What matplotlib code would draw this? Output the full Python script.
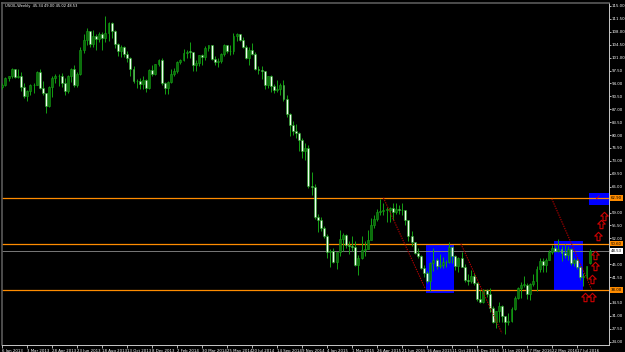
import matplotlib
matplotlib.use("Agg")
import matplotlib.pyplot as plt
from matplotlib.patches import Rectangle
from matplotlib.path import Path
from matplotlib.transforms import blended_transform_factory

# weekly USOIL candles, 6 Jan 2013 .. 14 Aug 2016 (one bar per week)
opens = [
    # 2013
    93.1, 93.6, 95.6, 95.9, 97.8, 95.7, 95.9, 93.1, 90.7, 91.9, 93.5, 93.7, 97.2,
    92.7, 91.3, 88.0, 93.0, 95.6, 96.0, 96.0, 94.2, 91.9, 96.0, 97.8, 93.7, 96.6,
    103.2, 105.9, 108.1, 104.7, 106.9, 106.0, 107.5, 106.4, 107.7, 110.5, 108.2,
    104.7, 102.9, 103.8, 102.0, 100.8, 97.8, 94.6, 94.6, 93.8, 95.0, 92.7, 97.6,
    96.6, 99.3, 100.3,
    # 2014
    94.0, 92.7, 94.4, 96.6, 97.5, 99.9, 100.3, 102.2, 102.6, 102.6, 98.9, 99.5,
    101.7, 101.1, 103.7, 104.3, 100.6, 99.8, 100.0, 102.0, 104.4, 102.7, 102.7,
    106.9, 107.3, 105.7, 104.0, 100.8, 103.1, 102.1, 97.9, 97.7, 97.4, 93.7, 95.9,
    93.3, 92.3, 92.4, 93.5, 89.7, 85.8, 82.8, 81.0, 80.5, 78.7, 75.8, 76.5, 66.2,
    65.8, 57.8, 57.1, 54.7,
    # 2015
    52.7, 48.4, 48.7, 45.6, 48.2, 51.7, 52.8, 50.3, 49.8, 49.6, 44.8, 46.6, 48.9,
    49.1, 51.6, 55.7, 57.2, 59.2, 59.4, 59.7, 59.7, 60.3, 59.1, 60.0, 59.6, 59.6,
    56.9, 52.7, 50.9, 48.1, 47.1, 43.9, 42.5, 40.5, 45.2, 46.1, 44.6, 44.7, 45.7,
    45.5, 49.6, 47.3, 44.6, 46.6, 44.3, 40.7, 40.4, 41.7, 40.0, 35.6, 34.7, 38.1,
    # 2016
    37.0, 33.2, 29.4, 32.2, 33.6, 30.9, 29.4, 29.6, 32.8, 35.9, 38.5, 39.4, 39.4,
    36.8, 39.7, 40.4, 43.7, 45.9, 44.7, 46.2, 48.4, 49.3, 48.6, 49.1, 48.0, 47.6,
    49.0, 45.4, 46.0, 44.2, 41.6, 41.8, 45.34,
]
highs = [
    94.2, 95.8, 96.1, 98.2, 98.0, 98.0, 97.0, 94.0, 92.1, 93.9, 94.0, 97.5, 97.8,
    94.6, 91.4, 93.2, 96.0, 96.6, 96.5, 96.9, 95.4, 96.2, 98.1, 98.9, 97.2, 103.9,
    107.4, 108.9, 108.3, 108.6, 107.5, 108.0, 107.9, 112.2, 110.7, 110.7, 108.5,
    104.9, 104.3, 104.2, 102.9, 101.2, 98.7, 95.3, 95.4, 95.9, 95.2, 98.0, 99.0,
    99.4, 100.5, 100.8,
    94.5, 94.6, 97.8, 98.2, 100.1, 100.6, 103.4, 103.0, 105.2, 102.6, 100.4, 101.8,
    102.0, 104.1, 104.5, 104.4, 101.5, 101.0, 102.3, 104.6, 104.5, 104.3, 107.6,
    107.7, 107.5, 106.5, 104.3, 103.9, 105.0, 102.4, 98.7, 98.6, 97.5, 96.0, 96.2,
    93.9, 95.0, 94.2, 94.9, 91.0, 86.0, 83.9, 82.9, 80.7, 79.3, 77.8, 77.2, 69.9,
    66.6, 58.6, 57.8, 55.4,
    53.1, 49.0, 49.3, 48.3, 54.2, 53.5, 53.2, 51.3, 52.5, 51.2, 47.6, 52.5, 51.2,
    54.2, 57.4, 58.4, 59.9, 62.6, 61.7, 60.4, 60.5, 61.6, 61.6, 61.0, 61.6, 59.7,
    57.0, 53.9, 51.0, 49.3, 47.4, 44.8, 43.2, 45.5, 49.3, 46.7, 47.7, 47.0, 46.0,
    50.9, 49.9, 47.5, 47.0, 48.4, 45.0, 42.2, 43.5, 42.5, 40.1, 37.9, 38.3, 38.3,
    38.4, 33.6, 32.4, 34.8, 34.0, 31.0, 31.8, 33.5, 36.3, 38.7, 40.2, 41.9, 39.8,
    39.8, 42.4, 44.5, 46.8, 46.8, 46.8, 48.9, 50.2, 50.2, 51.7, 49.9, 50.5, 49.9,
    49.4, 46.6, 46.7, 44.4, 42.5, 44.6, 49.00,
]
lows = [
    92.6, 93.2, 94.6, 95.6, 95.6, 95.6, 92.0, 90.0, 89.3, 90.8, 91.4, 93.5, 92.6,
    90.9, 86.1, 87.6, 90.2, 94.0, 93.3, 92.9, 90.9, 91.5, 94.5, 93.0, 93.1, 96.2,
    102.2, 104.3, 104.0, 103.9, 103.0, 105.3, 103.0, 105.2, 105.4, 106.3, 103.7,
    101.4, 101.2, 101.2, 99.9, 96.1, 94.1, 92.7, 92.6, 92.4, 91.8, 92.5, 96.0,
    96.4, 98.6, 93.7,
    91.2, 91.2, 94.0, 96.0, 96.9, 99.2, 100.0, 101.0, 100.8, 97.4, 97.4, 98.6,
    98.9, 100.4, 102.9, 100.3, 98.9, 98.5, 99.6, 101.5, 102.3, 101.7, 102.0,
    105.6, 105.5, 103.6, 100.5, 98.9, 101.8, 97.6, 96.6, 95.2, 92.5, 92.8, 91.6,
    91.4, 91.8, 90.8, 89.2, 84.8, 79.8, 80.0, 79.3, 75.8, 73.8, 73.3, 65.7, 63.7,
    57.3, 53.6, 53.9, 52.0,
    46.8, 44.2, 45.3, 43.6, 47.2, 48.5, 49.3, 47.8, 48.6, 44.4, 42.0, 46.5, 47.1,
    49.0, 51.5, 54.8, 56.6, 58.3, 58.4, 56.5, 56.5, 57.0, 58.5, 58.5, 58.4, 55.5,
    51.2, 50.0, 47.7, 46.7, 43.6, 41.4, 39.9, 37.8, 43.2, 43.7, 44.0, 44.0, 44.2,
    45.3, 45.2, 43.5, 43.0, 44.1, 40.2, 39.3, 40.0, 39.4, 35.0, 34.5, 34.4, 36.1,
    32.1, 29.1, 27.6, 29.3, 29.3, 26.1, 28.4, 29.2, 32.6, 35.6, 35.8, 38.8, 35.6,
    35.2, 39.2, 37.6, 42.8, 43.0, 43.0, 46.0, 47.7, 48.3, 48.4, 45.8, 46.7, 46.0,
    44.8, 44.4, 43.8, 40.6, 39.2, 41.0, 45.02,
]
closes = [
    93.6, 95.6, 95.9, 97.8, 95.7, 95.9, 93.1, 90.7, 91.9, 93.5, 93.7, 97.2, 92.7,
    91.3, 88.0, 93.0, 95.6, 96.0, 96.0, 94.2, 91.9, 96.0, 97.8, 93.7, 96.6, 103.2,
    105.9, 108.1, 104.7, 106.9, 106.0, 107.5, 106.4, 107.7, 110.5, 108.2, 104.7,
    102.9, 103.8, 102.0, 100.8, 97.8, 94.6, 94.6, 93.8, 95.0, 92.7, 97.6, 96.6,
    99.3, 100.3, 94.0,
    92.7, 94.4, 96.6, 97.5, 99.9, 100.3, 102.2, 102.6, 102.58, 98.9, 99.5, 101.7,
    101.1, 103.7, 104.3, 100.6, 99.8, 100.0, 102.0, 104.4, 102.7, 102.66, 106.9,
    107.3, 105.7, 104.0, 100.8, 103.1, 102.1, 97.9, 97.7, 97.4, 93.7, 95.9, 93.3,
    92.3, 92.4, 93.5, 89.7, 85.8, 82.8, 81.0, 80.5, 78.7, 75.8, 76.5, 66.2, 65.8,
    57.8, 57.1, 54.7, 52.7,
    48.4, 48.7, 45.6, 48.2, 51.7, 52.8, 50.3, 49.8, 49.6, 44.8, 46.6, 48.9, 49.1,
    51.6, 55.7, 57.2, 59.2, 59.4, 59.7, 59.72, 60.3, 59.1, 60.0, 59.6, 59.63, 56.9,
    52.7, 50.9, 48.1, 47.1, 43.9, 42.5, 40.5, 45.2, 46.1, 44.6, 44.7, 45.7, 45.5,
    49.6, 47.3, 44.6, 46.6, 44.3, 40.7, 40.4, 41.7, 40.0, 35.6, 34.7, 38.1, 37.0,
    33.2, 29.4, 32.2, 33.6, 30.9, 29.4, 29.6, 32.8, 35.9, 38.5, 39.4, 39.46, 36.8,
    39.7, 40.4, 43.7, 45.9, 44.7, 46.2, 48.4, 49.3, 48.6, 49.1, 48.0, 47.6, 49.0,
    45.4, 46.0, 44.2, 41.6, 41.8, 44.5, 48.53,
]

date_labels = ["6 Jan 2013", "3 Mar 2013", "28 Apr 2013", "23 Jun 2013",
               "18 Aug 2013", "13 Oct 2013", "8 Dec 2013", "2 Feb 2014",
               "30 Mar 2014", "25 May 2014", "20 Jul 2014", "14 Sep 2014",
               "9 Nov 2014", "4 Jan 2015", "1 Mar 2015", "26 Apr 2015",
               "21 Jun 2015", "16 Aug 2015", "11 Oct 2015", "6 Dec 2015",
               "31 Jan 2016", "27 Mar 2016", "22 May 2016", "17 Jul 2016"]
price_ticks = [115.0 - 3.5 * k for k in range(27)]

# drawn objects on the chart
level_prices = [62.90, 50.60, 38.00]
bid_price = 48.53
box_x0 = [135.6, 176.5, 187.7]
box_x1 = [144.5, 185.8, 194.2]
box_low = [37.2, 38.0, 61.0]
box_high = [50.4, 51.3, 64.3]
trend_x0 = [122.0, 146.8, 175.9]
trend_y0 = [63.0, 50.5, 62.7]
trend_x1 = [135.3, 159.9, 188.7]
trend_y1 = [38.5, 26.3, 38.0]
arrow_x = [192.5, 191.6, 190.6, 189.7, 189.7, 188.7, 186.6, 188.9]
arrow_y = [58.1, 55.8, 52.5, 47.5, 44.5, 41.0, 36.1, 36.1]
check_x = [190.6]
check_y = [62.9]

W, H = 625, 352
fig = plt.figure(figsize=(W / 100, H / 100), dpi=100, facecolor="black")
ax = fig.add_axes([2 / W, 1 - 345 / H, 607 / W, 342 / H])
ax.set_facecolor("black")

# blue boxes behind candles
for x0, x1, lo, hi in zip(box_x0, box_x1, box_low, box_high):
    ax.add_patch(Rectangle((x0, lo), x1 - x0, hi - lo, facecolor="#0000FF",
                           edgecolor="none", zorder=1))

for p in level_prices:
    ax.axhline(p, color="#FF8C00", lw=0.9, zorder=2)
ax.axhline(bid_price, color="#8C8C8C", lw=0.6, zorder=2)

# candles
green = "#14A014"
xs = list(range(len(closes)))
ax.vlines(xs, lows, highs, colors=green, lw=0.7, zorder=3)
bottoms = [min(o, c) for o, c in zip(opens, closes)]
heights = [max(abs(c - o), 0.12) for o, c in zip(opens, closes)]
faces = ["#0B6E0B" if c >= o else "#F2FFF2" for o, c in zip(opens, closes)]
ax.bar(xs, heights, bottom=bottoms, width=0.62, color=faces,
       edgecolor=green, linewidth=0.4, zorder=4)

for x0, y0, x1, y1 in zip(trend_x0, trend_y0, trend_x1, trend_y1):
    ax.plot([x0, x1], [y0, y1], color="#B00000", lw=0.8,
            linestyle=(0, (1.2, 1.0)), zorder=5)

# hollow up arrows
up_arrow = Path([(0, 0.5), (0.45, 0.05), (0.18, 0.05), (0.18, -0.5),
                 (-0.18, -0.5), (-0.18, 0.05), (-0.45, 0.05), (0, 0.5)],
                closed=True)
ax.scatter(arrow_x, arrow_y, marker=up_arrow, s=36, facecolors="black",
           edgecolors="#D00000", linewidths=0.8, zorder=6)
for x, y in zip(check_x, check_y):
    ax.text(x, y, "\u2713", color="#E00000", fontsize=5, ha="center",
            va="center", family="DejaVu Sans", zorder=6)

ax.set_xlim(-0.1, 194.2)
ax.set_ylim(23.08, 115.81)

ax.yaxis.tick_right()
ax.set_yticks(price_ticks)
ax.set_yticklabels([f"{v:.2f}" for v in price_ticks])
ax.set_xticks(list(range(0, 8 * len(date_labels), 8)))
ax.set_xticklabels(date_labels, ha="left")
ax.tick_params(axis="y", colors="white", labelsize=2.8, length=1.5, width=0.5, pad=0.5)
ax.tick_params(axis="x", colors="white", labelsize=2.8, length=2, width=0.5, pad=0.6)

for side in ["left", "top"]:
    ax.spines[side].set_color("#5A5A5A")
    ax.spines[side].set_linewidth(1.2)
for side in ["right", "bottom"]:
    ax.spines[side].set_color("#C8C8C8")
    ax.spines[side].set_linewidth(0.7)

# price boxes on the right scale
trans = blended_transform_factory(ax.transAxes, ax.transData)
for p in level_prices:
    ax.text(1.003, p, f"{p:.2f}", transform=trans, fontsize=2.8, color="black",
            va="center", ha="left", clip_on=False, zorder=7,
            bbox=dict(boxstyle="square,pad=0.2", fc="#FF8C00", ec="none"))
ax.text(1.003, bid_price, f"{bid_price:.2f}", transform=trans, fontsize=2.8,
        color="black", va="center", ha="left", clip_on=False, zorder=7,
        bbox=dict(boxstyle="square,pad=0.2", fc="white", ec="none"))

fig.text(5 / W, 1 - 4 / H, "USOIL,Weekly  45.34 49.00 45.02 48.53", color="white",
         fontsize=2.6, va="top", ha="left")

fig.savefig("out.png", dpi=100, facecolor="black")
